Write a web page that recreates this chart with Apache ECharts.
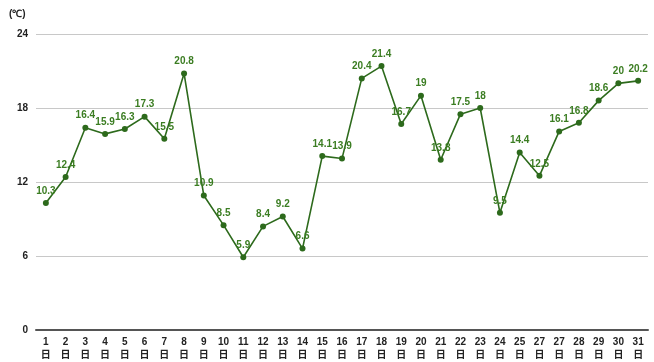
<!DOCTYPE html>
<html>
<head>
<meta charset="utf-8">
<script src="https://cdn.jsdelivr.net/npm/echarts@6/dist/echarts.min.js"></script>
<style>
  html, body { margin: 0; padding: 0; background: #fff; }
  #chart { width: 654px; height: 362px; }
</style>
</head>
<body>
<div id="chart"></div>
<script>
// day labels as printed (the 26th is printed as "27" in the source)
const days = ['1', '2', '3', '4', '5', '6', '7', '8', '9', '10', '11', '12', '13', '14', '15',
  '16', '17', '18', '19', '20', '21', '22', '23', '24', '25', '27', '27', '28', '29', '30', '31'];
const temps = [10.3, 12.4, 16.4, 15.9, 16.3, 17.3, 15.5, 20.8, 10.9, 8.5, 5.9, 8.4, 9.2, 6.6, 14.1,
  13.9, 20.4, 21.4, 16.7, 19, 13.8, 17.5, 18, 9.5, 14.4, 12.5, 16.1, 16.8, 18.6, 20, 20.2];
const unitLabel = '(℃)';

const chart = echarts.init(document.getElementById('chart'));

const option = {
  animation: false,
  textStyle: { fontFamily: 'Liberation Sans, Noto Sans CJK JP, sans-serif' },
  grid: { left: 36, right: 6, top: 34, bottom: 32 },
  graphic: [{
    type: 'text',
    left: 9,
    top: 9,
    style: { text: unitLabel, fontSize: 10, fontWeight: 'bold', fill: '#222' }
  }],
  xAxis: {
    type: 'category',
    data: days.map(d => d + '\n日'),
    axisLine: { lineStyle: { color: '#555', width: 2 } },
    axisTick: { show: false },
    axisLabel: {
      interval: 0,
      color: '#222',
      fontSize: 10,
      fontWeight: 'bold',
      lineHeight: 13,
      margin: 6
    }
  },
  yAxis: {
    type: 'value',
    min: 0,
    max: 24,
    interval: 6,
    axisLine: { show: false },
    axisTick: { show: false },
    axisLabel: { color: '#222', fontSize: 10, fontWeight: 'bold', margin: 8 },
    splitLine: { lineStyle: { color: '#c8c8c8', width: 1 } }
  },
  series: [{
    type: 'line',
    data: temps,
    symbol: 'circle',
    symbolSize: 6,
    lineStyle: { color: '#2d6a1c', width: 1.6 },
    itemStyle: { color: '#2d6a1c' },
    label: {
      show: true,
      position: 'top',
      distance: 4,
      color: '#3b7d22',
      fontSize: 10,
      fontWeight: 'bold'
    }
  }]
};

chart.setOption(option);
</script>
</body>
</html>
